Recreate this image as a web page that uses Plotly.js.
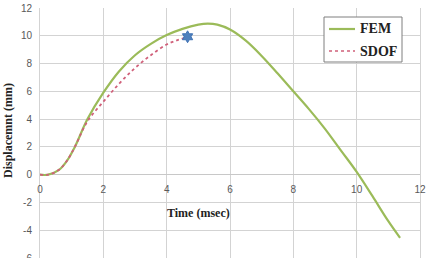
<!DOCTYPE html>
<html><head><meta charset="utf-8">
<script src="https://cdn.plot.ly/plotly-3.0.1.min.js"></script>
<style>html,body{margin:0;padding:0;background:#fff}</style>
</head><body>
<div id="chart" style="width:437px;height:258px"></div>
<script>
// FEM series: time (msec) and displacement (mm)
var femTime = [0, 0.26, 0.6, 0.85, 1.1, 1.5, 2.0, 2.5, 3.0, 3.5, 4.0, 4.5, 5.0, 5.3, 5.6, 6.0, 6.5, 7.0, 7.5, 8.0, 8.5, 9.0, 9.5, 10.0, 10.5, 11.0, 11.37];
var femDisp = [0, 0, 0.35, 1.0, 2.0, 4.0, 5.9, 7.45, 8.6, 9.42, 10.05, 10.5, 10.8, 10.87, 10.8, 10.45, 9.65, 8.55, 7.3, 6.0, 4.7, 3.3, 1.75, 0.2, -1.55, -3.35, -4.55];
// SDOF series
var sdofTime = [0, 0.26, 0.6, 0.85, 1.1, 1.5, 2.0, 2.5, 3.0, 3.5, 4.0, 4.3, 4.61];
var sdofDisp = [0, 0, 0.35, 1.0, 2.0, 3.85, 5.25, 6.55, 7.68, 8.6, 9.37, 9.65, 9.88];
// End marker
var markTime = [4.66];
var markDisp = [9.93];
var xTicks = [0, 2, 4, 6, 8, 10, 12];
var yTicks = [-6, -4, -2, 0, 2, 4, 6, 8, 10, 12];
var seriesNames = ['FEM', 'SDOF'];
var xTitle = 'Time (msec)';
var yTitle = 'Displacemnt (mm)';

var femColor = '#9bbb59', sdofColor = '#d0607a';

// pixel -> paper helpers (plot area: x 40..420, y 8..258)
function px(x) { return (x - 40) / 380; }
function py(y) { return (258 - y) / 250; }

var traces = [
  {x: femTime, y: femDisp, name: seriesNames[0], mode: 'lines', line: {color: femColor, width: 2.2, shape: 'spline', smoothing: 1}},
  {x: sdofTime, y: sdofDisp, name: seriesNames[1], mode: 'lines', line: {color: sdofColor, width: 1.8, dash: 'dot', shape: 'spline', smoothing: 1}},
  {x: markTime, y: markDisp, mode: 'markers', marker: {symbol: 'hexagram', size: 9, color: '#4f81bd', line: {color: '#3f72b5', width: 1}}}
];

var legendFont = {family: 'Liberation Serif', size: 14, color: '#222'};

var layout = {
  width: 437, height: 258,
  margin: {l: 40, r: 17, t: 8, b: 0, pad: 0},
  paper_bgcolor: '#fff', plot_bgcolor: '#fff',
  showlegend: false,
  xaxis: {range: [0, 12], tickvals: xTicks, ticktext: xTicks.map(String), anchor: 'free', position: 1/3,
    showgrid: true, gridcolor: '#d3d3d3', gridwidth: 1, zeroline: false, showline: false,
    ticks: 'outside', ticklen: 5, tickcolor: 'rgba(0,0,0,0)',
    tickfont: {family: 'Liberation Sans', size: 10, color: '#595959'}},
  yaxis: {range: [-6, 12], tickvals: yTicks, ticktext: yTicks.map(String), ticklabeloverflow: 'allow',
    showgrid: true, gridcolor: '#d3d3d3', gridwidth: 1, zeroline: true, zerolinecolor: '#c8c8c8', zerolinewidth: 1,
    showline: true, linecolor: '#d3d3d3', mirror: true,
    ticks: 'outside', ticklen: 5, tickcolor: 'rgba(0,0,0,0)',
    tickfont: {family: 'Liberation Sans', size: 10, color: '#595959'}},
  shapes: [
    {type: 'rect', xref: 'paper', yref: 'paper', x0: px(324), x1: px(402), y0: py(62), y1: py(17),
      fillcolor: '#fff', line: {color: '#7f7f7f', width: 1}, layer: 'above'},
    {type: 'line', xref: 'paper', yref: 'paper', x0: px(329), x1: px(355), y0: py(29), y1: py(29),
      line: {color: femColor, width: 2.2}},
    {type: 'line', xref: 'paper', yref: 'paper', x0: px(329), x1: px(355), y0: py(51), y1: py(51),
      line: {color: sdofColor, width: 1.5, dash: 'dot'}}
  ],
  annotations: [
    {text: '<b>' + seriesNames[0] + '</b>', xref: 'paper', yref: 'paper', x: px(358), y: py(29), xanchor: 'left', yanchor: 'middle', showarrow: false, font: legendFont},
    {text: '<b>' + seriesNames[1] + '</b>', xref: 'paper', yref: 'paper', x: px(358), y: py(51), xanchor: 'left', yanchor: 'middle', showarrow: false, font: legendFont},
    {text: '<b>' + xTitle + '</b>', xref: 'paper', yref: 'paper', x: px(198), y: py(213), xanchor: 'center', yanchor: 'middle', showarrow: false,
      font: {family: 'Liberation Serif', size: 12, color: '#222'}},
    {text: '<b>' + yTitle + '</b>', xref: 'paper', yref: 'paper', x: px(8), y: py(131), xanchor: 'center', yanchor: 'middle', textangle: -90, showarrow: false,
      font: {family: 'Liberation Serif', size: 12, color: '#222'}}
  ]
};

Plotly.newPlot('chart', traces, layout, {staticPlot: true, displayModeBar: false});
</script>
</body></html>
